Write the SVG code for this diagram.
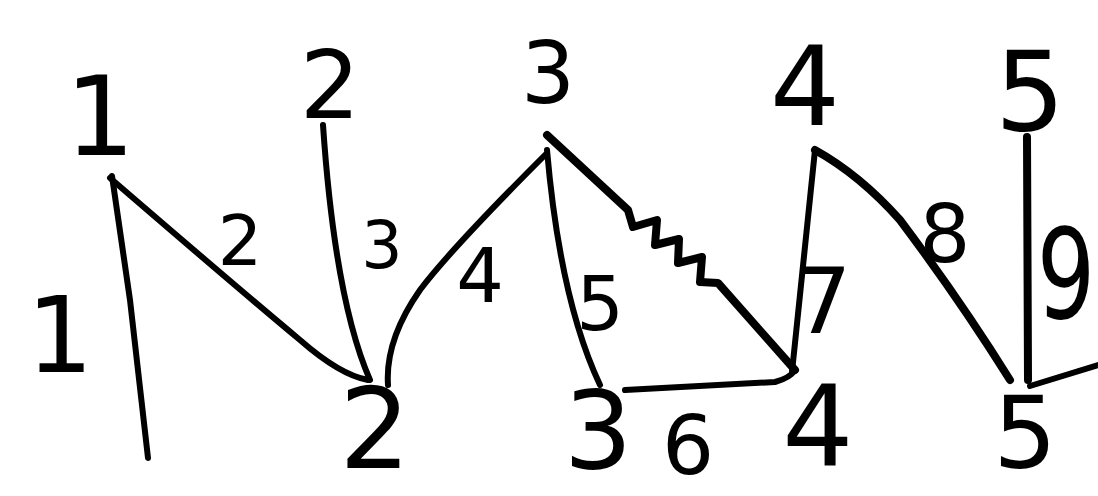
<svg xmlns="http://www.w3.org/2000/svg" width="1098" height="496" viewBox="0 0 1098 496">
<style>
.lbl{font-family:"DejaVu Sans","Liberation Sans",sans-serif;fill:#000;text-anchor:middle;font-weight:normal}
.e{fill:none;stroke:#000;stroke-width:6;stroke-linecap:round;stroke-linejoin:round}
.thick{stroke-width:8}
</style>
<rect width="1098" height="496" fill="#fff"/>
<g id="connectors">
<path class="e" d="M112,176 L130,300 L148,458"/>
<path class="e" d="M110,178 Q240,290 300,340 Q340,375 368,380"/>
<path class="e" d="M323,125 Q335,300 370,380"/>
<path class="e" d="M545,155 Q450,250 420,290 Q385,340 388,385"/>
<path class="e" d="M547,150 Q560,300 600,385"/>
<path class="e" d="M625,390 L775,382 Q790,378 795,370"/>
<path class="e thick" d="M547,135 L628,210 L633,227 L657,220 L655,245 L679,239 L678,263 L702,257 L700,282 L718,283 L795,370"/>
<path class="e" d="M815,150 L792,372"/>
<path class="e thick" d="M815,150 Q860,175 900,220 Q960,300 1010,380"/>
<path class="e thick" d="M1027,137 L1028,380"/>
<path class="e" d="M1030,386 L1098,365"/>
</g>
<g id="node-top1"><text class="lbl" x="100" y="155" font-size="110">1</text></g>
<g id="node-top2"><text class="lbl" x="330" y="118" font-size="95">2</text></g>
<g id="node-top3"><text class="lbl" x="548" y="103" font-size="85">3</text></g>
<g id="node-top4"><text class="lbl" x="805" y="125" font-size="110">4</text></g>
<g id="node-top5"><text class="lbl" x="1030" y="130" font-size="110">5</text></g>
<g id="node-bot2"><text class="lbl" x="375" y="468" font-size="112">2</text></g>
<g id="node-bot3"><text class="lbl" x="598" y="468" font-size="108">3</text></g>
<g id="node-bot4"><text class="lbl" x="818" y="465" font-size="112">4</text></g>
<g id="node-bot5"><text class="lbl" x="1025" y="468" font-size="100">5</text></g>
<g id="edge-labels">
<text class="lbl" x="60" y="372" font-size="105">1</text>
<text class="lbl" x="240" y="265" font-size="70">2</text>
<text class="lbl" x="382" y="268" font-size="65">3</text>
<text class="lbl" x="480" y="302" font-size="75">4</text>
<text class="lbl" x="600" y="330" font-size="75">5</text>
<text class="lbl" x="688" y="474" font-size="82">6</text>
<text class="lbl" x="823" y="333" font-size="90">7</text>
<text class="lbl" x="945" y="262" font-size="80">8</text>
<text class="lbl" font-size="92" transform="translate(1066,318) scale(1,1.35)">9</text>
</g>
</svg>
